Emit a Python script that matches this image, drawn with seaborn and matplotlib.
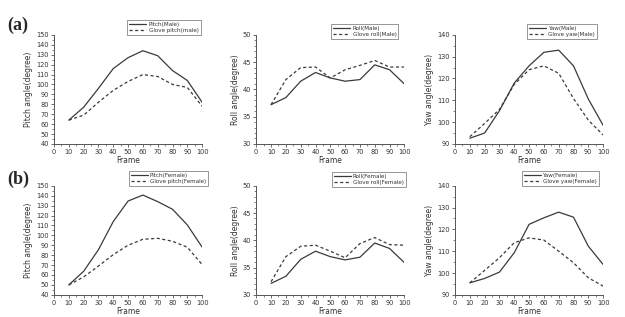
import numpy as np
import pandas as pd
import matplotlib
matplotlib.use("Agg")
import matplotlib.pyplot as plt
import seaborn as sns
from matplotlib.ticker import MultipleLocator

# Donnees (frame 10..100)
frames = [10, 20, 30, 40, 50, 60, 70, 80, 90, 100]

pitch_male = [64, 77, 96, 116, 127, 134, 129, 114, 104, 82]
glove_pitch_male = [64, 69, 82, 94, 103, 110, 108, 100, 97, 78]
roll_male = [37.2, 38.5, 41.5, 43.1, 42.1, 41.5, 41.8, 44.5, 43.6, 41.0]
glove_roll_male = [37.2, 41.8, 44.0, 44.1, 42.1, 43.6, 44.4, 45.3, 44.1, 44.1]
yaw_male = [92.6, 95.0, 105.2, 117.9, 125.8, 132.0, 133.0, 125.8, 110.6, 98.5]
glove_yaw_male = [93.3, 99.4, 105.8, 117.3, 124.0, 125.8, 122.4, 110.8, 100.9, 94.1]

pitch_female = [50, 63.7, 85.5, 113.9, 134.6, 140.6, 134, 126.3, 110.5, 88.1]
glove_pitch_female = [50, 58, 69, 80.5, 90, 96, 97, 94, 88, 70.5]
roll_female = [32.1, 33.4, 36.5, 38.0, 37.0, 36.4, 36.9, 39.5, 38.5, 35.9]
glove_roll_female = [32.4, 37.0, 38.9, 39.1, 38.0, 36.8, 39.4, 40.5, 39.2, 39.1]
yaw_female = [95.5, 97.5, 100.4, 109.3, 122.3, 125.3, 127.9, 125.6, 112.3, 103.9]
glove_yaw_female = [95.5, 101.2, 107.0, 113.9, 116.1, 115.1, 110.0, 104.7, 97.8, 94.0]

panels = [
    # (ligne, colonne, reel, gant, label reel, label gant, ylabel, ylim, major, minor)
    (0, 0, pitch_male, glove_pitch_male, "Pitch(Male)", "Glove pitch(male)",
     "Pitch angle(degree)", (40, 150), 10, 5),
    (0, 1, roll_male, glove_roll_male, "Roll(Male)", "Glove roll(Male)",
     "Roll angle(degree)", (30, 50), 5, 1),
    (0, 2, yaw_male, glove_yaw_male, "Yaw(Male)", "Glove yaw(Male)",
     "Yaw angle(degree)", (90, 140), 10, 5),
    (1, 0, pitch_female, glove_pitch_female, "Pitch(Female)", "Glove pitch(Female)",
     "Pitch angle(degree)", (40, 150), 10, 5),
    (1, 1, roll_female, glove_roll_female, "Roll(Female)", "Glove roll(Female)",
     "Roll angle(degree)", (30, 50), 5, 1),
    (1, 2, yaw_female, glove_yaw_female, "Yaw(Female)", "Glove yaw(Female)",
     "Yaw angle(degree)", (90, 140), 10, 5),
]

# position des legendes (coin bas-droit, coordonnees axes)
leg_anchor = {
    (0, 0): (0.99, 1.0), (0, 1): (0.96, 0.96), (0, 2): (0.96, 0.96),
    (1, 0): (1.04, 1.0), (1, 1): (1.01, 0.99), (1, 2): (0.97, 1.0),
}

sns.set_style("ticks")
plt.rcParams['font.family'] = ['DejaVu Sans']

fig = plt.figure(figsize=(6.25, 3.17), dpi=100)

lefts = [0.0864, 0.41, 0.728]
bottoms = [0.546, 0.07]
w, h = 0.237, 0.344
line_col = "#3a3a3a"
spine_col = "#555555"

for row, col, real, glove, lab_r, lab_g, ylab, ylim, maj, mnr in panels:
    ax = fig.add_axes([lefts[col], bottoms[row], w, h])
    df = pd.DataFrame({"Frame": frames, "real": real, "glove": glove})
    sns.lineplot(data=df, x="Frame", y="real", ax=ax, color=line_col, lw=0.9,
                 label=lab_r)
    sns.lineplot(data=df, x="Frame", y="glove", ax=ax, color=line_col, lw=0.9,
                 linestyle=(0, (2.5, 2)), label=lab_g)
    ax.set_xlim(0, 100)
    ax.set_ylim(*ylim)
    ax.xaxis.set_major_locator(MultipleLocator(10))
    ax.xaxis.set_minor_locator(MultipleLocator(5))
    ax.yaxis.set_major_locator(MultipleLocator(maj))
    ax.yaxis.set_minor_locator(MultipleLocator(mnr))
    ax.tick_params(which="major", length=2.5, width=0.6, labelsize=4.8,
                   colors=spine_col, labelcolor="#333333", pad=1.2)
    ax.tick_params(which="minor", length=1.5, width=0.5, colors=spine_col)
    sns.despine(ax=ax)
    for s in ["left", "bottom"]:
        ax.spines[s].set_color(spine_col)
        ax.spines[s].set_linewidth(0.7)
    ax.set_xlabel("Frame", fontsize=5.5, color="#333333", labelpad=1)
    ax.set_ylabel(ylab, fontsize=5.5, color="#333333", labelpad=2)
    leg = ax.legend(loc="lower right", bbox_to_anchor=leg_anchor[(row, col)],
                    fontsize=4.1, frameon=True, fancybox=False, borderpad=0.35,
                    handlelength=3.0, labelspacing=0.2, handletextpad=0.4,
                    borderaxespad=0)
    leg.get_frame().set_edgecolor("#666666")
    leg.get_frame().set_linewidth(0.6)
    for t in leg.get_texts():
        t.set_color("#333333")

fig.text(0.012, 0.905, "(a)", fontsize=13, fontweight="bold",
         family="Liberation Serif")
fig.text(0.012, 0.42, "(b)", fontsize=13, fontweight="bold",
         family="Liberation Serif")

plt.savefig("out.png", dpi=100)
